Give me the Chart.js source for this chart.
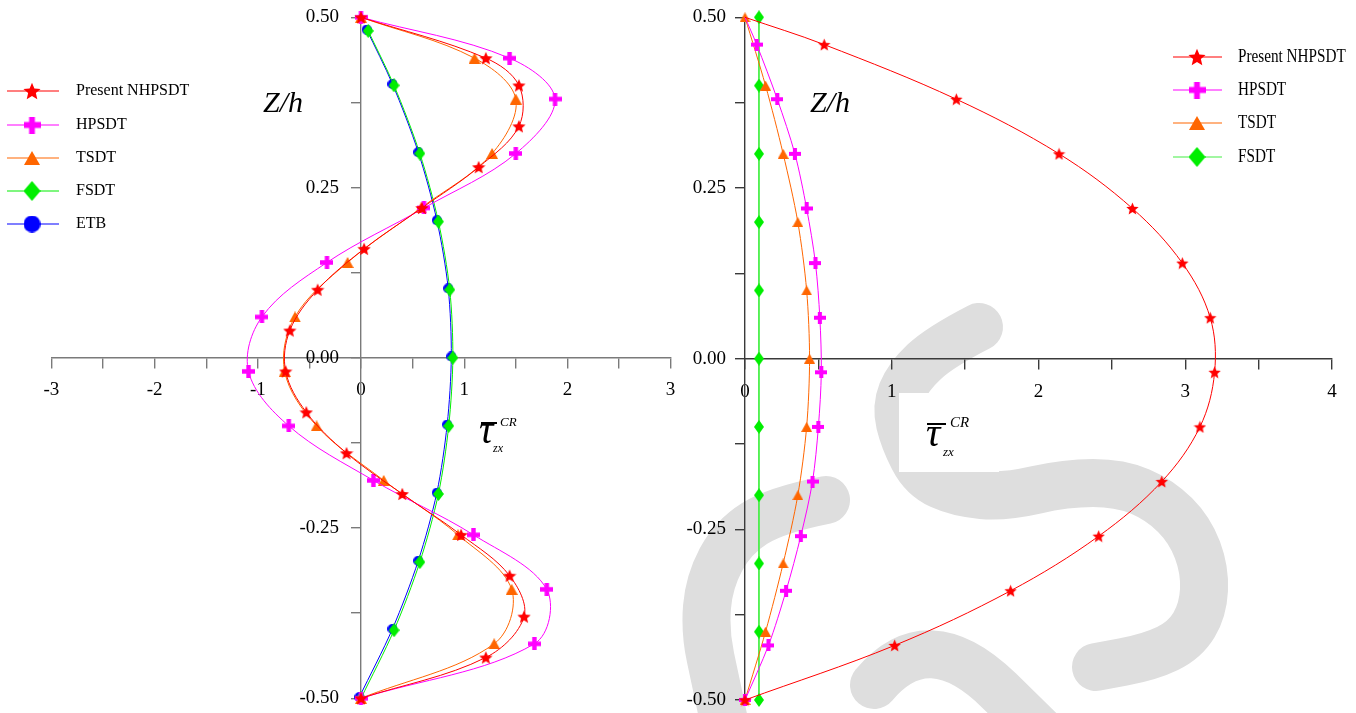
<!DOCTYPE html>
<html><head><meta charset="utf-8">
<script src="https://cdn.jsdelivr.net/npm/chart.js@4.4.0/dist/chart.umd.min.js"></script>
<style>
html,body{margin:0;padding:0;background:#fff;}
#wrap{position:relative;width:1356px;height:713px;overflow:hidden;background:#fff;}
canvas{position:absolute;top:0;}
.t{position:absolute;font-family:'Liberation Serif','Times New Roman',serif;font-style:italic;color:#000;white-space:nowrap;line-height:1;}
.bar{position:absolute;background:#000;height:2px;}
</style></head><body>
<div id="wrap">
<canvas id="cl" width="680" height="713" style="left:0"></canvas>
<canvas id="cr" width="676" height="713" style="left:680px"></canvas>
<div class="t" style="left:263px;top:87px;font-size:30px">Z/h</div>
<div class="t" style="left:479px;top:410px;font-size:40px">τ</div>
<div class="bar" style="left:481px;top:422px;width:16px"></div>
<div class="t" style="left:500px;top:415px;font-size:13px">CR</div>
<div class="t" style="left:493px;top:442px;font-size:12px">zx</div>
<div class="t" style="left:810px;top:87px;font-size:30px">Z/h</div>
<div class="t" style="left:926px;top:413px;font-size:40px">τ</div>
<div class="bar" style="left:927px;top:423px;width:19px"></div>
<div class="t" style="left:950px;top:415px;font-size:15px">CR</div>
<div class="t" style="left:943px;top:445px;font-size:13px">zx</div>
</div>
<script>
// ---------- DATA: left panel ----------
const zLeftNH   = [0.50, 0.44, 0.40, 0.34, 0.28, 0.22, 0.16, 0.10, 0.04, -0.02, -0.08, -0.14, -0.20, -0.26, -0.32, -0.38, -0.44, -0.50];
const tauLeftNH = [0, 1.21, 1.53, 1.53, 1.14, 0.59, 0.03, -0.42, -0.69, -0.73, -0.53, -0.14, 0.40, 0.97, 1.44, 1.58, 1.21, 0];
const zLeftHP   = [0.50, 0.44, 0.38, 0.30, 0.22, 0.14, 0.06, -0.02, -0.10, -0.18, -0.26, -0.34, -0.42, -0.50];
const tauLeftHP = [0, 1.44, 1.88, 1.50, 0.61, -0.33, -0.96, -1.09, -0.70, 0.12, 1.09, 1.80, 1.68, 0];
const zLeftTS   = [0.50, 0.44, 0.38, 0.30, 0.22, 0.14, 0.06, -0.02, -0.10, -0.18, -0.26, -0.34, -0.42, -0.50];
const tauLeftTS = [0, 1.10, 1.50, 1.27, 0.58, -0.13, -0.64, -0.74, -0.43, 0.22, 0.94, 1.46, 1.29, 0];
const zLeftFS   = [0.48, 0.40, 0.30, 0.20, 0.10, 0.00, -0.10, -0.20, -0.30, -0.40, -0.50];
const tauLeftFS = [0.07, 0.32, 0.57, 0.75, 0.86, 0.89, 0.85, 0.75, 0.57, 0.32, 0];
const zLeftETB   = [0.482, 0.402, 0.302, 0.202, 0.102, 0.002, -0.098, -0.198, -0.298, -0.398, -0.498];
const tauLeftETB = [0.055, 0.305, 0.555, 0.735, 0.845, 0.875, 0.835, 0.735, 0.555, 0.305, -0.015];
// ---------- DATA: right panel ----------
const zRightNH   = [0.50, 0.46, 0.38, 0.30, 0.22, 0.14, 0.06, -0.02, -0.10, -0.18, -0.26, -0.34, -0.42, -0.50];
const tauRightNH = [0, 0.54, 1.44, 2.14, 2.64, 2.98, 3.17, 3.20, 3.10, 2.84, 2.41, 1.81, 1.02, 0];
const zRightHP   = [0.50, 0.46, 0.38, 0.30, 0.22, 0.14, 0.06, -0.02, -0.10, -0.18, -0.26, -0.34, -0.42, -0.50];
const tauRightHP = [0, 0.08, 0.22, 0.34, 0.42, 0.48, 0.51, 0.52, 0.50, 0.46, 0.38, 0.28, 0.16, 0];
const zRightTS   = [0.50, 0.40, 0.30, 0.20, 0.10, 0.00, -0.10, -0.20, -0.30, -0.40, -0.50];
const tauRightTS = [0, 0.14, 0.26, 0.36, 0.42, 0.44, 0.42, 0.36, 0.26, 0.14, 0];
const zRightFS   = [0.50, 0.40, 0.30, 0.20, 0.10, 0.00, -0.10, -0.20, -0.30, -0.40, -0.50];
const tauRightFS = [0.095, 0.095, 0.095, 0.095, 0.095, 0.095, 0.095, 0.095, 0.095, 0.095, 0.095];
// ---------- labels / ticks ----------
const seriesNames = ['Present NHPSDT', 'HPSDT', 'TSDT', 'FSDT', 'ETB'];
const leftXRange = [-3, 3];
const rightXRange = [0, 4];
const zRange = [-0.5, 0.5];
const xStep = 0.5, zStep = 0.125;

const COL = {red:'#ff0000', mag:'#ff00ff', ora:'#ff6600', grn:'#00ee00', blu:'#0000ff'};

function marker(shape, w, h, color) {
  const c = document.createElement('canvas');
  c.width = Math.ceil(w); c.height = Math.ceil(h);
  const g = c.getContext('2d');
  g.fillStyle = color;
  const cx = c.width / 2, cy = c.height / 2;
  g.beginPath();
  if (shape === 'star') {
    const R = Math.min(w, h) / 2, r = R * 0.45;
    for (let i = 0; i < 10; i++) {
      const a = -Math.PI / 2 + i * Math.PI / 5, rr = i % 2 ? r : R;
      g.lineTo(cx + rr * Math.cos(a), cy + rr * Math.sin(a) + R * 0.095);
    }
  } else if (shape === 'plus') {
    const t = w * 0.34;
    g.rect(cx - t / 2, 0, t, h); g.rect(0, cy - t / 2, w, t);
  } else if (shape === 'tri') {
    g.moveTo(cx, 0); g.lineTo(w, h); g.lineTo(0, h);
  } else if (shape === 'dia') {
    g.moveTo(cx, 0); g.lineTo(w, cy); g.lineTo(cx, h); g.lineTo(0, cy);
  } else {
    g.arc(cx, cy, Math.min(w, h) / 2, 0, Math.PI * 2);
  }
  g.closePath(); g.fill();
  return c;
}

function ds(label, xs, zs, color, img, legendImg, radii, tension) {
  return {
    label, data: zs.map((z, i) => ({x: xs[i], y: z})),
    borderColor: color, backgroundColor: color, borderWidth: 1,
    showLine: true, tension: tension, pointStyle: img,
    pointRadius: radii || 6, pointHoverRadius: 6, pointBorderWidth: 0,
    clip: false, legendImg
  };
}

function noPad(scale) {
  scale.paddingTop = 0; scale.paddingBottom = 0; scale.paddingLeft = 0; scale.paddingRight = 0;
}

function scales(xr, axisColor) {
  const font = {family: 'Liberation Serif', size: 19};
  return {
    x: {type: 'linear', min: xr[0], max: xr[1], position: {y: 0}, afterFit: noPad,
        ticks: {stepSize: xStep, autoSkip: false, maxRotation: 0, font, color: '#000', padding: 12,
                callback: v => Number.isInteger(v) ? String(v) : ''},
        grid: {drawOnChartArea: false, tickLength: 10, color: axisColor, lineWidth: 1.4},
        border: {display: true, color: axisColor, width: 1.4}},
    y: {type: 'linear', min: zRange[0], max: zRange[1], position: {x: 0}, afterFit: noPad,
        ticks: {stepSize: zStep, autoSkip: false, font, color: '#000', padding: 12,
                callback: v => Math.abs(v / 0.25 - Math.round(v / 0.25)) < 1e-6 ? v.toFixed(2) : ''},
        grid: {drawOnChartArea: false, tickLength: 9, color: axisColor, lineWidth: 1.4},
        border: {display: true, color: axisColor, width: 1.4}}
  };
}

const labelPos = {
  id: 'labelPos',
  beforeDraw(chart, args, o) {
    const xs = chart.scales.x, ys = chart.scales.y;
    const ax = xs.getPixelForValue(0), ay = ys.getPixelForValue(0);
    xs.getLabelItems().forEach(it => {
      it.textOffset = 0; it.options.translation[1] = ay + o.xDy; it.options.textBaseline = 'middle';
    });
    ys.getLabelItems().forEach(it => {
      it.options.translation[0] = ax - o.yGap; it.options.textAlign = 'right';
    });
  }
};

const legendPlug = {
  id: 'legendPlug',
  afterDraw(chart, args, o) {
    const ctx = chart.ctx;
    ctx.save();
    chart.data.datasets.forEach((d, i) => {
      const y = o.ys[i];
      ctx.strokeStyle = d.borderColor; ctx.lineWidth = 1.2;
      ctx.beginPath(); ctx.moveTo(o.x1, y); ctx.lineTo(o.x2, y); ctx.stroke();
      const im = d.legendImg;
      ctx.drawImage(im, o.xm - im.width / 2, y - im.height / 2);
      ctx.fillStyle = '#000'; ctx.font = o.font; ctx.textBaseline = 'middle'; ctx.textAlign = 'left';
      ctx.save(); ctx.translate(o.xt, y); ctx.scale(o.sx || 1, 1); ctx.fillText(d.label, 0, 0); ctx.restore();
    });
    ctx.restore();
  }
};

const watermark = {
  id: 'watermark',
  beforeDraw(chart, args, o) {
    if (!o.paths) return;
    const ctx = chart.ctx, ox = o.ox;
    ctx.save();
    ctx.strokeStyle = '#dedede'; ctx.lineWidth = 48; ctx.lineCap = 'round'; ctx.lineJoin = 'round';
    o.paths.forEach(p => {
      ctx.beginPath();
      ctx.moveTo(p[0][0] - ox, p[0][1]);
      for (let i = 1; i < p.length - 1; i++) {
        const mx = (p[i][0] + p[i + 1][0]) / 2, my = (p[i][1] + p[i + 1][1]) / 2;
        ctx.quadraticCurveTo(p[i][0] - ox, p[i][1], mx - ox, my);
      }
      const L = p[p.length - 1];
      ctx.lineTo(L[0] - ox, L[1]);
      ctx.stroke();
    });
    ctx.fillStyle = '#fff';
    ctx.fillRect(o.box[0] - ox, o.box[1], o.box[2], o.box[3]);
    ctx.restore();
  }
};

Chart.defaults.font.family = 'Liberation Serif';

// marker images
const mk = {
  starL: marker('star', 14, 14, COL.red), plusL: marker('plus', 13, 13, COL.mag),
  triL: marker('tri', 12, 11, COL.ora), diaL: marker('dia', 11, 14, COL.grn), cirL: marker('cir', 10, 10, COL.blu),
  starR: marker('star', 13, 13, COL.red), plusR: marker('plus', 12, 12, COL.mag),
  triR: marker('tri', 11, 10, COL.ora), diaR: marker('dia', 10, 14, COL.grn),
  starG: marker('star', 18, 18, COL.red), plusG: marker('plus', 17, 17, COL.mag),
  triG: marker('tri', 16, 14, COL.ora), diaG: marker('dia', 17, 20, COL.grn), cirG: marker('cir', 17, 17, COL.blu)
};

new Chart(document.getElementById('cl'), {
  type: 'scatter',
  data: {datasets: [
    ds(seriesNames[0], tauLeftNH, zLeftNH, COL.red, mk.starL, mk.starG, null, 0.35),
    ds(seriesNames[1], tauLeftHP, zLeftHP, COL.mag, mk.plusL, mk.plusG, null, 0.35),
    ds(seriesNames[2], tauLeftTS, zLeftTS, COL.ora, mk.triL, mk.triG, null, 0.35),
    ds(seriesNames[3], tauLeftFS, zLeftFS, COL.grn, mk.diaL, mk.diaG, null, 0.3),
    ds(seriesNames[4], tauLeftETB, zLeftETB, COL.blu, mk.cirL, mk.cirG, null, 0.3)
  ]},
  options: {
    responsive: false, animation: false,
    layout: {padding: {left: 51.4, right: 9.4, top: 17.3, bottom: 14.7}},
    scales: scales(leftXRange, '#7a7a7a'),
    plugins: {legend: {display: false}, tooltip: {enabled: false},
      labelPos: {xDy: 32.5, yGap: 22},
      legendPlug: {x1: 7, x2: 59, xm: 32, xt: 76, ys: [91, 125, 158, 191, 224], font: '16px "Liberation Serif"'}}
  },
  plugins: [labelPos, legendPlug]
});

new Chart(document.getElementById('cr'), {
  type: 'scatter',
  data: {datasets: [
    ds(seriesNames[0], tauRightNH, zRightNH, COL.red, mk.starR, mk.starG, zRightNH.map((z, i) => i === 0 ? 0 : 6), 0.35),
    ds(seriesNames[1], tauRightHP, zRightHP, COL.mag, mk.plusR, mk.plusG, zRightHP.map((z, i) => i === 0 ? 0 : 6), 0.3),
    ds(seriesNames[2], tauRightTS, zRightTS, COL.ora, mk.triR, mk.triG, null, 0.3),
    ds(seriesNames[3], tauRightFS, zRightFS, '#44ee44', mk.diaR, mk.diaG, null, 0)
  ]},
  options: {
    responsive: false, animation: false,
    layout: {padding: {left: 65, right: 24, top: 17.3, bottom: 13}},
    scales: scales(rightXRange, '#3a3a3a'),
    plugins: {legend: {display: false}, tooltip: {enabled: false},
      labelPos: {xDy: 33.5, yGap: 19},
      legendPlug: {x1: 493, x2: 542, xm: 517, xt: 558, ys: [57, 90, 123, 157], font: '19px "Liberation Serif"', sx: 0.8},
      watermark: {ox: 680, box: [899, 393, 100, 79], paths: [
        [[979,327],[940,347],[908,377],[896,407],[904,440],[923,477],[958,493],[1005,497],[1066,483],[1120,483],[1160,500],[1190,530],[1205,570],[1203,610],[1185,640],[1150,657],[1096,667]],
        [[826,500],[776,510],[733,537],[709,582],[705,632],[716,683],[728,740]],
        [[874,685],[928,621],[1070,760]]
      ]}}
  },
  plugins: [watermark, labelPos, legendPlug]
});
</script>
</body></html>
